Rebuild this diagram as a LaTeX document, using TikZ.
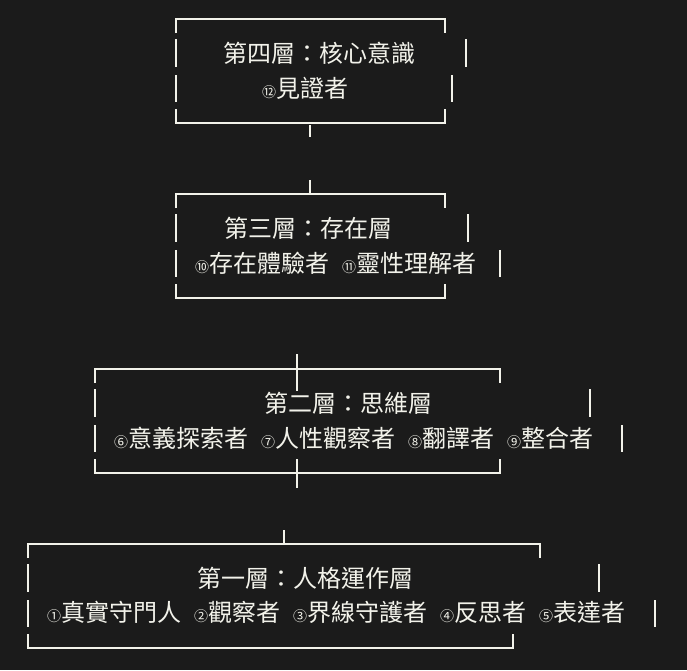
\documentclass[tikz,border=0pt]{standalone}
\usepackage{fontspec}
\setmainfont{Noto Sans CJK TC}
\newfontfamily\circfont{DejaVu Sans}
\newcommand{\cn}[1]{{\fontsize{14}{14}\selectfont #1}}
\newcommand{\gap}{\hspace{13pt}}
\definecolor{bg}{HTML}{1B1B1B}
\definecolor{fg}{HTML}{F2F2EA}
\tikzset{ln/.style={fg,line width=1.6pt},
 tx/.style={anchor=west,inner sep=0pt,text=fg,font=\fontsize{24}{24}\selectfont}}
% L R T B bar1 bar2 Rbottom
\newcommand{\asciibox}[7]{%
 \draw[ln] (#1,#3+14)--(#1,#3)--(#2,#3)--(#2,#3+14);
 \draw[ln] (#1,#3+20)--(#1,#3+48);
 \draw[ln] (#1,#3+56)--(#1,#3+83);
 \draw[ln] (#1,#4-14)--(#1,#4)--(#7,#4)--(#7,#4-14);
 \draw[ln] (#5,#3+20)--(#5,#3+48);
 \draw[ln] (#6,#3+56)--(#6,#3+83);
}
\begin{document}
\begin{tikzpicture}[x=1pt,y=-1pt]
\fill[bg] (0,0) rectangle (687,670);
\useasboundingbox (0,0) rectangle (687,670);
\asciibox{176}{445}{19}{123}{466}{452}{445}
\node[tx] (t4a) at (223,53) {第四層：核心意識};
\node[tx] (t4b) at (262,88) {\cn{⑫}見證者};
\draw[ln] (310,125)--(310,137);
\draw[ln] (310,180)--(310,193);
\asciibox{176}{445}{194}{298}{468}{500}{445}
\node[tx] (t3a) at (224,228) {第三層：存在層};
\node[tx] (t3b) at (195,263) {\cn{⑩}存在體驗者\gap\cn{⑪}靈性理解者};
\draw[ln] (297,354)--(297,391);
\asciibox{95}{500}{369}{473}{590}{622}{500}
\draw[ln] (297,459)--(297,488);
\node[tx] (t2a) at (264,403) {第二層：思維層};
\node[tx] (t2b) at (114,438) {\cn{⑥}意義探索者\gap\cn{⑦}人性觀察者\gap\cn{⑧}翻譯者\gap\cn{⑨}整合者};
\draw[ln] (284,530)--(284,544);
\asciibox{28}{540}{544}{648}{599}{655}{513}
\node[tx] (t1a) at (197,578) {第一層：人格運作層};
\node[tx] (t1b) at (47,612) {\cn{①}真實守門人\gap\cn{②}觀察者\gap\cn{③}界線守護者\gap\cn{④}反思者\gap\cn{⑤}表達者};
\end{tikzpicture}
\end{document}
